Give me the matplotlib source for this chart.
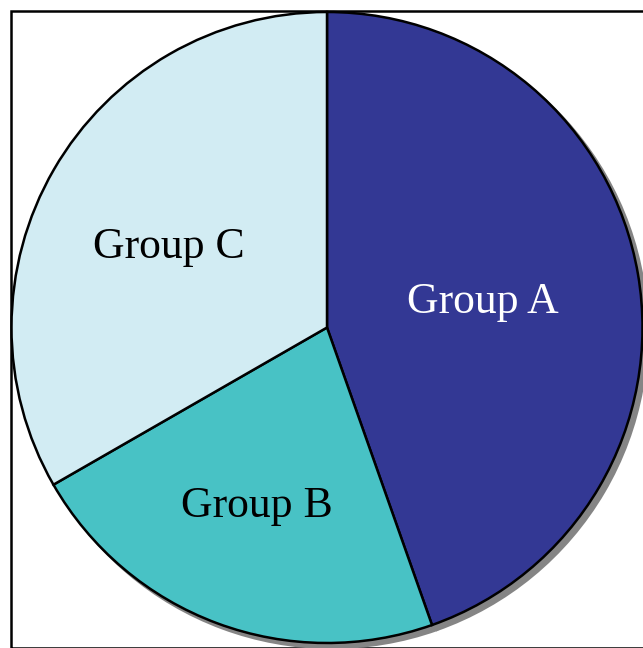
import matplotlib
matplotlib.use("Agg")
import matplotlib.pyplot as plt
from matplotlib.patches import Rectangle

# Data
categories = ["Group A", "Group B", "Group C"]
values = [44.6, 22.1, 33.3]
colors = ["#333894", "#48C2C5", "#D2ECF3"]
label_colors = ["white", "black", "black"]

# Layout (pixel-based data coordinates)
W, H = 643, 648
cx, cy, R = 327, 320.5, 315.5
label_offsets = [(0.494, 0.047), (-0.222, -0.601), (-0.502, 0.220)]  # in radius units, baseline

fig = plt.figure(figsize=(W / 100, H / 100), dpi=100)
ax = fig.add_axes([0, 0, 1, 1])

wedges, _ = ax.pie(
    values, colors=colors, startangle=90, counterclock=False,
    center=(cx, cy), radius=R,
    wedgeprops=dict(edgecolor="black", linewidth=1.8),
    shadow=dict(ox=3.5, oy=-3.5, facecolor="#858585", edgecolor="#858585", alpha=1.0),
)

for name, col, (ox, oy) in zip(categories, label_colors, label_offsets):
    ax.text(cx + ox * R, cy + oy * R, name, ha="center", va="baseline",
            color=col, fontsize=31.5, family=["Liberation Serif", "DejaVu Serif"], zorder=5)

# Frame (left/top black, bottom edge mostly cut off)
frame = Rectangle((10.7, -0.4), 700, 637.4, fill=False, edgecolor="black",
                  linewidth=1.8, zorder=0)
ax.add_patch(frame)

ax.set_xlim(0, W)
ax.set_ylim(0, H)
ax.set_aspect("equal", adjustable="box")
ax.axis("off")

fig.savefig("out.png", dpi=100)
